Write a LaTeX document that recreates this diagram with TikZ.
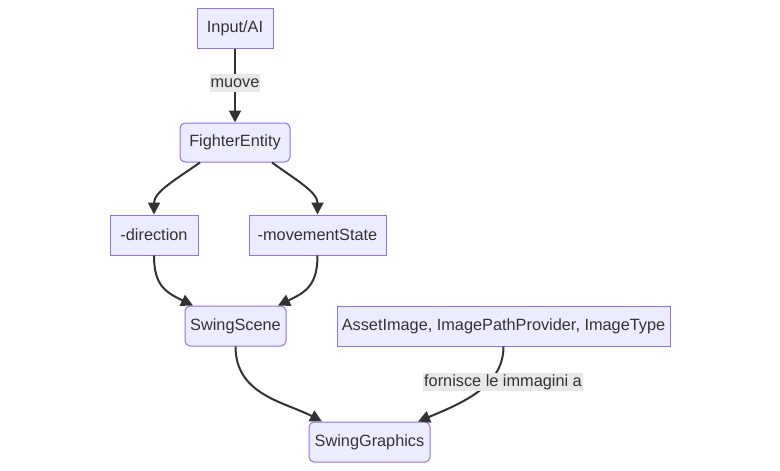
\documentclass[tikz,border=0pt]{standalone}
\usepackage{fontspec}
\setmainfont{Liberation Sans}
\usetikzlibrary{arrows.meta}
\definecolor{nodefill}{HTML}{ECECFF}
\definecolor{nodeline}{HTML}{9370DB}
\definecolor{edgeline}{HTML}{333333}
\definecolor{labelfill}{HTML}{E8E8E8}

\begin{document}
\begin{tikzpicture}[x=1pt,y=-1pt,>={Triangle[length=12pt,width=12pt]},
  box/.style={draw=nodeline,fill=nodefill,line width=1pt,inner sep=0pt,minimum height=40pt,text=edgeline,font=\fontsize{16.3}{19}\selectfont},
  rbox/.style={box,rounded corners=5pt},
  lbl/.style={fill=labelfill,inner xsep=1pt,inner ysep=0pt,minimum height=18pt,text=edgeline,font=\fontsize{16.3}{19}\selectfont},
  link/.style={->,draw=edgeline,line width=2pt}]
\useasboundingbox (0,0) rectangle (780,471);
\node[box,minimum width=76pt] (input) at (235,28) {Input/AI};
\node[rbox,minimum width=110pt,minimum height=39pt] (fighter) at (235,142.5) {FighterEntity};
\node[box,minimum width=88pt] (direction) at (154,235) {-direction};
\node[box,minimum width=137pt] (movement) at (317.5,235) {-movementState};
\node[rbox,minimum width=101pt] (scene) at (235.5,326) {SwingScene};
\node[box,minimum width=333pt] (assets) at (503.5,326) {AssetImage, ImagePathProvider, ImageType};
\node[rbox,minimum width=121pt] (graphics) at (369.5,442) {SwingGraphics};
\draw[link] (input) -- (fighter);
\draw[link] ([xshift=-35pt]fighter.south) .. controls (175,180) and (154,192) .. (direction.north);
\draw[link] ([xshift=37pt]fighter.south) .. controls (296,180) and (317.5,192) .. (movement.north);
\draw[link] (direction.south) .. controls (154,285) and (165,292) .. ([xshift=-42.5pt]scene.north);
\draw[link] (movement.south) .. controls (317.5,285) and (306,292) .. ([xshift=42.5pt]scene.north);
\draw[link] (scene.south) .. controls (235.5,395) and (285,402) .. ([xshift=-47.5pt]graphics.north);
\draw[link] (assets.south) .. controls (503.5,385) and (465,402) .. ([xshift=48.5pt]graphics.north);
% edge labels
\node[lbl] (muove) at (235,83) {muove};
\node[lbl] (fornisce) at (503,382) {fornisce le immagini a};
\end{tikzpicture}
\end{document}
